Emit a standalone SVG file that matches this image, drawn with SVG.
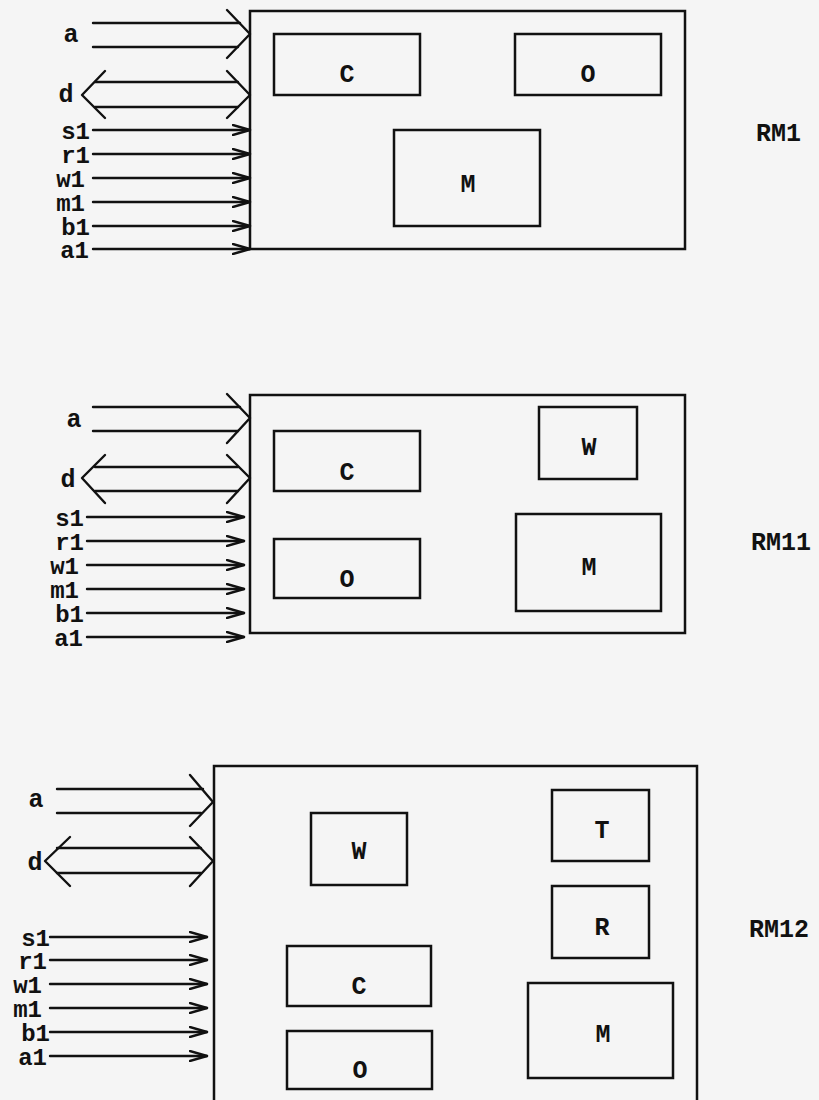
<svg xmlns="http://www.w3.org/2000/svg" width="819" height="1100" viewBox="0 0 819 1100">
<style>
.bg{fill:#f5f5f5}
.box{fill:none;stroke:#111;stroke-width:2.5}
.ln{fill:none;stroke:#111;stroke-width:2.4;stroke-linecap:round;stroke-linejoin:round}
.t{font-family:"Liberation Mono","DejaVu Sans Mono",monospace;font-weight:bold;font-size:25px;fill:#111}
.s{font-size:24px}
.m{text-anchor:middle}
.e{text-anchor:end}
</style>
<defs>
<marker id="arr" markerWidth="20" markerHeight="12" refX="18" refY="6" orient="auto" markerUnits="userSpaceOnUse">
<polyline points="1,1 18,6 1,11" fill="none" stroke="#111" stroke-width="2.4" stroke-linecap="round" stroke-linejoin="round"/>
</marker>
</defs>
<rect class="bg" x="0" y="0" width="819" height="1100"/>

<!-- Panel RM1 -->
<g id="rm1">
<rect class="box" x="250" y="11" width="435" height="238"/>
<text class="t" x="756" y="141">RM1</text>
</g>
<g id="rm1-C"><rect class="box" x="274" y="34" width="146" height="61"/><text class="t m" x="347" y="82">C</text></g>
<g id="rm1-O"><rect class="box" x="515" y="34" width="146" height="61"/><text class="t m" x="588" y="82">O</text></g>
<g id="rm1-M"><rect class="box" x="394" y="130" width="146" height="96"/><text class="t m" x="468" y="192">M</text></g>
<g id="rm1-labels">
<text class="t m" x="71" y="42">a</text>
<text class="t m" x="66" y="102">d</text>
<text class="t s e" x="90" y="139">s1</text>
<text class="t s e" x="90" y="163">r1</text>
<text class="t s e" x="85" y="187">w1</text>
<text class="t s e" x="85" y="211">m1</text>
<text class="t s e" x="90" y="235">b1</text>
<text class="t s e" x="89" y="258">a1</text>
</g>
<g id="rm1-connectors">
<line class="ln" x1="93" y1="23" x2="240" y2="23"/>
<line class="ln" x1="93" y1="47" x2="238" y2="47"/>
<polyline class="ln" points="227,10 250,34 227,58"/>
<line class="ln" x1="95" y1="82" x2="238" y2="82"/>
<line class="ln" x1="95" y1="107" x2="238" y2="107"/>
<polyline class="ln" points="105,71 82,95 105,118"/>
<polyline class="ln" points="227,71 250,95 227,118"/>
<line class="ln" x1="93" y1="130" x2="250" y2="130" marker-end="url(#arr)"/>
<line class="ln" x1="93" y1="154" x2="250" y2="154" marker-end="url(#arr)"/>
<line class="ln" x1="93" y1="178" x2="250" y2="178" marker-end="url(#arr)"/>
<line class="ln" x1="93" y1="202" x2="250" y2="202" marker-end="url(#arr)"/>
<line class="ln" x1="93" y1="226" x2="250" y2="226" marker-end="url(#arr)"/>
<line class="ln" x1="93" y1="249" x2="250" y2="249" marker-end="url(#arr)"/>
</g>

<!-- Panel RM11 -->
<g id="rm11">
<rect class="box" x="250" y="395" width="435" height="238"/>
<text class="t" x="751" y="550">RM11</text>
</g>
<g id="rm11-C"><rect class="box" x="274" y="431" width="146" height="60"/><text class="t m" x="347" y="480">C</text></g>
<g id="rm11-O"><rect class="box" x="274" y="539" width="146" height="59"/><text class="t m" x="347" y="587">O</text></g>
<g id="rm11-W"><rect class="box" x="539" y="407" width="98" height="72"/><text class="t m" x="589" y="455">W</text></g>
<g id="rm11-M"><rect class="box" x="516" y="514" width="145" height="97"/><text class="t m" x="589" y="575">M</text></g>
<g id="rm11-labels">
<text class="t m" x="74" y="427">a</text>
<text class="t m" x="68" y="487">d</text>
<text class="t s e" x="84" y="526">s1</text>
<text class="t s e" x="84" y="550">r1</text>
<text class="t s e" x="79" y="574">w1</text>
<text class="t s e" x="79" y="598">m1</text>
<text class="t s e" x="84" y="622">b1</text>
<text class="t s e" x="83" y="646">a1</text>
</g>
<g id="rm11-connectors">
<line class="ln" x1="93" y1="407" x2="240" y2="407"/>
<line class="ln" x1="93" y1="431" x2="238" y2="431"/>
<polyline class="ln" points="227,394 250,418 227,443"/>
<line class="ln" x1="95" y1="467" x2="238" y2="467"/>
<line class="ln" x1="95" y1="491" x2="238" y2="491"/>
<polyline class="ln" points="105,455 82,478 105,503"/>
<polyline class="ln" points="227,455 250,478 227,503"/>
<line class="ln" x1="87" y1="517" x2="244" y2="517" marker-end="url(#arr)"/>
<line class="ln" x1="87" y1="541" x2="244" y2="541" marker-end="url(#arr)"/>
<line class="ln" x1="87" y1="565" x2="244" y2="565" marker-end="url(#arr)"/>
<line class="ln" x1="87" y1="589" x2="244" y2="589" marker-end="url(#arr)"/>
<line class="ln" x1="87" y1="613" x2="244" y2="613" marker-end="url(#arr)"/>
<line class="ln" x1="87" y1="637" x2="244" y2="637" marker-end="url(#arr)"/>
</g>

<!-- Panel RM12 -->
<g id="rm12">
<rect class="box" x="214" y="766" width="483" height="345"/>
<text class="t" x="749" y="937">RM12</text>
</g>
<g id="rm12-W"><rect class="box" x="311" y="813" width="96" height="72"/><text class="t m" x="359" y="859">W</text></g>
<g id="rm12-T"><rect class="box" x="552" y="790" width="97" height="71"/><text class="t m" x="602" y="838">T</text></g>
<g id="rm12-R"><rect class="box" x="552" y="886" width="97" height="72"/><text class="t m" x="602" y="935">R</text></g>
<g id="rm12-C"><rect class="box" x="287" y="946" width="144" height="60"/><text class="t m" x="359" y="994">C</text></g>
<g id="rm12-M"><rect class="box" x="528" y="983" width="145" height="95"/><text class="t m" x="603" y="1042">M</text></g>
<g id="rm12-O"><rect class="box" x="287" y="1031" width="145" height="58"/><text class="t m" x="360" y="1078">O</text></g>
<g id="rm12-labels">
<text class="t m" x="36" y="807">a</text>
<text class="t m" x="35" y="870">d</text>
<text class="t s e" x="50" y="946">s1</text>
<text class="t s e" x="47" y="969">r1</text>
<text class="t s e" x="42" y="993">w1</text>
<text class="t s e" x="42" y="1017">m1</text>
<text class="t s e" x="50" y="1041">b1</text>
<text class="t s e" x="47" y="1065">a1</text>
</g>
<g id="rm12-connectors">
<line class="ln" x1="57" y1="789" x2="203" y2="789"/>
<line class="ln" x1="57" y1="813" x2="201" y2="813"/>
<polyline class="ln" points="190,775 213,802 190,826"/>
<line class="ln" x1="57" y1="848" x2="201" y2="848"/>
<line class="ln" x1="57" y1="873" x2="201" y2="873"/>
<polyline class="ln" points="70,837 45,861 70,886"/>
<polyline class="ln" points="190,837 213,861 190,886"/>
<line class="ln" x1="50" y1="937" x2="207" y2="937" marker-end="url(#arr)"/>
<line class="ln" x1="50" y1="960" x2="207" y2="960" marker-end="url(#arr)"/>
<line class="ln" x1="50" y1="984" x2="207" y2="984" marker-end="url(#arr)"/>
<line class="ln" x1="50" y1="1008" x2="207" y2="1008" marker-end="url(#arr)"/>
<line class="ln" x1="50" y1="1032" x2="207" y2="1032" marker-end="url(#arr)"/>
<line class="ln" x1="50" y1="1056" x2="207" y2="1056" marker-end="url(#arr)"/>
</g>
</svg>
